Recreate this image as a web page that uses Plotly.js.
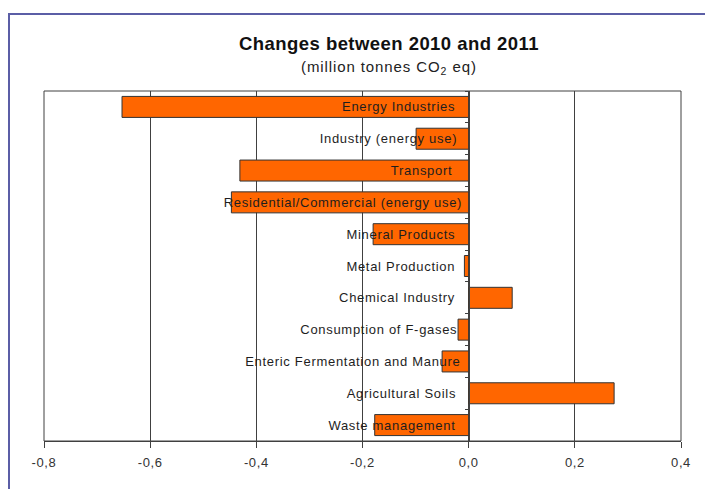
<!DOCTYPE html>
<html>
<head>
<meta charset="utf-8">
<script src="https://cdn.plot.ly/plotly-3.0.1.min.js"></script>
<style>
  html, body { margin: 0; padding: 0; background: #fff; }
  #chart { width: 705px; height: 489px; }
  /* slightly open letter spacing for all chart texts */
  #chart .annotation-text { letter-spacing: 0.7px; }
  #chart .gtitle { letter-spacing: 0.45px; }
  #chart .xtick text { letter-spacing: 0.6px; }
</style>
</head>
<body>
<div id="chart"></div>
<script>
// Emission sources, listed top to bottom
const sources = [
  "Energy Industries",
  "Industry (energy use)",
  "Transport",
  "Residential/Commercial (energy use)",
  "Mineral Products",
  "Metal Production",
  "Chemical Industry",
  "Consumption of F-gases",
  "Enteric Fermentation and Manure",
  "Agricultural Soils",
  "Waste management"
];

// Change 2010 -> 2011, million tonnes CO2 eq
const changes = [-0.653, -0.099, -0.431, -0.447, -0.180, -0.008, 0.082, -0.020, -0.050, 0.274, -0.177];

const xTicks = [-0.8, -0.6, -0.4, -0.2, 0.0, 0.2, 0.4];
// decimal comma, plain hyphen for negatives
const xTickText = xTicks.map(v => v.toFixed(1).replace(".", ","));

const font = "Liberation Sans, Arial, sans-serif";

const trace = {
  type: "bar",
  orientation: "h",
  y: sources,
  x: changes,
  marker: { color: "#ff6600", line: { color: "#333333", width: 1 } },
  hoverinfo: "x+y"
};

// Category names sit just left of the zero line, over the bars
const labels = sources.map(s => ({
  x: 0, y: s, xref: "x", yref: "y",
  text: s, showarrow: false,
  xanchor: "right", yanchor: "middle", xshift: -17,
  font: { family: font, size: 13, color: "#1e1e1e" }
}));

labels.push({
  x: 0.5416, y: 1.066, xref: "paper", yref: "paper",
  text: "<span style=\"letter-spacing:0.9px\">(million tonnes CO<sub>2</sub> eq)</span>",
  showarrow: false,
  xanchor: "center", yanchor: "middle",
  font: { family: font, size: 15, color: "#222222" }
});

const layout = {
  width: 705, height: 489,
  margin: { l: 44, r: 24, t: 91, b: 48 },
  paper_bgcolor: "#ffffff",
  plot_bgcolor: "#ffffff",
  showlegend: false,
  bargap: 0.34,
  title: {
    text: "<b>Changes between 2010 and 2011</b>",
    x: 0.5416 * 637 / 705 + 44 / 705, xanchor: "center", xref: "container",
    y: 1 - 44 / 489, yanchor: "middle", yref: "container",
    font: { family: font, size: 18.5, color: "#111111" }
  },
  xaxis: {
    range: [-0.8, 0.4],
    tickmode: "array",
    tickvals: xTicks,
    ticktext: xTickText,
    showgrid: true, gridcolor: "#404040", gridwidth: 1,
    zeroline: false,
    showline: true, linecolor: "#404040", linewidth: 1,
    ticks: "outside", ticklen: 6, tickcolor: "#404040",
    ticklabelstandoff: 3,
    tickfont: { family: font, size: 13, color: "#333333" },
    fixedrange: true
  },
  yaxis: {
    type: "category",
    autorange: "reversed",
    anchor: "free", position: 0.8 / 1.2,
    showline: true, linecolor: "#404040", linewidth: 1,
    ticks: "outside", ticklen: 4, tickcolor: "#404040",
    tickson: "boundaries",
    showticklabels: false,
    showgrid: false, zeroline: false,
    fixedrange: true
  },
  annotations: labels,
  shapes: [
    // frame of the plot area
    { type: "rect", xref: "paper", yref: "paper", x0: 0, x1: 1, y0: 0, y1: 1,
      line: { color: "#404040", width: 1 }, layer: "above" },
    // outer frame
    { type: "rect", xref: "paper", yref: "paper",
      x0: (9 - 44) / 637, x1: 1.2, y0: -0.3, y1: (441 - 14) / 350,
      line: { color: "#5b5ea6", width: 2 } }
  ]
};

Plotly.newPlot("chart", [trace], layout, { displayModeBar: false, staticPlot: true });
</script>
</body>
</html>
